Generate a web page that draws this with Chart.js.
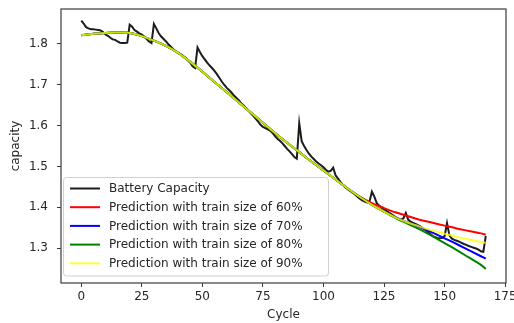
<!DOCTYPE html>
<html>
<head>
<meta charset="utf-8">
<script src="https://cdn.jsdelivr.net/npm/chart.js@4.4.1/dist/chart.umd.min.js"></script>
<style>
  html, body { margin: 0; padding: 0; background: #fff; }
  #wrap { width: 514px; height: 323px; }
</style>
</head>
<body>
<div id="wrap"><canvas id="chart" width="514" height="323"></canvas></div>
<script>
// measured battery capacity, one value per cycle (0..167)
const capacity = [
  1.857, 1.850, 1.841, 1.838, 1.836, 1.836, 1.835, 1.834, 1.833, 1.829,
  1.823, 1.820, 1.815, 1.811, 1.810, 1.806, 1.803, 1.802, 1.802, 1.803,
  1.847, 1.842, 1.834, 1.830, 1.826, 1.823, 1.818, 1.812, 1.806, 1.802,
  1.849, 1.838, 1.826, 1.818, 1.812, 1.806, 1.799, 1.793, 1.787, 1.782,
  1.778, 1.775, 1.771, 1.766, 1.760, 1.754, 1.745, 1.741, 1.791, 1.780,
  1.770, 1.762, 1.754, 1.747, 1.741, 1.734, 1.726, 1.717, 1.708, 1.700,
  1.693, 1.687, 1.681, 1.674, 1.668, 1.662, 1.655, 1.649, 1.643, 1.637,
  1.630, 1.624, 1.617, 1.610, 1.602, 1.597, 1.594, 1.591, 1.588, 1.582,
  1.574, 1.568, 1.563, 1.557, 1.550, 1.543, 1.537, 1.530, 1.523, 1.519,
  1.606, 1.562, 1.550, 1.540, 1.531, 1.524, 1.518, 1.512, 1.507, 1.503,
  1.498, 1.492, 1.487, 1.489, 1.497, 1.478, 1.470, 1.462, 1.455, 1.449,
  1.444, 1.440, 1.436, 1.431, 1.426, 1.421, 1.417, 1.414, 1.412, 1.414,
  1.438, 1.426, 1.410, 1.404, 1.399, 1.395, 1.391, 1.387, 1.383, 1.379,
  1.375, 1.372, 1.369, 1.373, 1.386, 1.369, 1.365, 1.362, 1.359, 1.356,
  1.353, 1.349, 1.345, 1.340, 1.335, 1.330, 1.327, 1.325, 1.324, 1.325,
  1.329, 1.361, 1.331, 1.323, 1.320, 1.318, 1.316, 1.313, 1.310, 1.308,
  1.305, 1.303, 1.301, 1.299, 1.296, 1.292, 1.291, 1.330
];
const cycles = capacity.map((_, i) => i);

// prediction curves, sampled at these cycles
const predCycles = [0, 5, 10, 15, 20, 25, 30, 35, 40, 45, 50, 55, 60, 65, 70, 75, 80, 85,
  90, 95, 100, 105, 110, 115, 120, 125, 130, 135, 140, 145, 150, 155, 160, 165, 167];

const pred60 = [1.821, 1.825, 1.827, 1.828, 1.827, 1.819, 1.808, 1.795, 1.778, 1.756, 1.732, 1.707,
  1.682, 1.657, 1.632, 1.607, 1.582, 1.558, 1.535, 1.512, 1.490, 1.468, 1.446, 1.426,
  1.410, 1.398, 1.387, 1.378, 1.369, 1.362, 1.355, 1.348, 1.342, 1.336, 1.333];
const pred70 = [1.821, 1.825, 1.827, 1.828, 1.827, 1.819, 1.808, 1.795, 1.778, 1.756, 1.732, 1.707,
  1.682, 1.657, 1.632, 1.607, 1.582, 1.558, 1.535, 1.512, 1.490, 1.468, 1.446, 1.425,
  1.406, 1.389, 1.374, 1.362, 1.351, 1.338, 1.324, 1.310, 1.295, 1.280, 1.274];
const pred80 = [1.821, 1.825, 1.827, 1.828, 1.827, 1.819, 1.808, 1.795, 1.778, 1.756, 1.732, 1.707,
  1.682, 1.657, 1.632, 1.607, 1.582, 1.558, 1.535, 1.512, 1.490, 1.468, 1.446, 1.425,
  1.406, 1.389, 1.373, 1.359, 1.345, 1.329, 1.312, 1.295, 1.277, 1.259, 1.249];
const pred90 = [1.821, 1.825, 1.827, 1.828, 1.827, 1.819, 1.808, 1.795, 1.778, 1.756, 1.732, 1.707,
  1.682, 1.657, 1.632, 1.607, 1.582, 1.558, 1.535, 1.512, 1.490, 1.468, 1.446, 1.425,
  1.406, 1.389, 1.374, 1.362, 1.352, 1.343, 1.335, 1.328, 1.321, 1.315, 1.313];

const xTicks = [0, 25, 50, 75, 100, 125, 150, 175];
const yTicks = [1.3, 1.4, 1.5, 1.6, 1.7, 1.8];

const FONT = "'DejaVu Sans', sans-serif";
const TEXT = "#262626";

const toPoints = (xs, ys) => xs.map((x, i) => ({ x, y: ys[i] }));

function predSet(label, values, color, order) {
    return {
        label,
        data: toPoints(predCycles, values),
        borderColor: color,
        borderWidth: 2,
        pointRadius: 0,
        cubicInterpolationMode: "monotone",
        order,
    };
}

const datasets = [
    {
        label: "Battery Capacity",
        data: toPoints(cycles, capacity),
        borderColor: "#1c1c1c",
        borderWidth: 2,
        pointRadius: 0,
        tension: 0,
        order: 5,
    },
    predSet("Prediction with train size of 60%", pred60, "#ff0000", 4),
    predSet("Prediction with train size of 70%", pred70, "#0000ff", 3),
    predSet("Prediction with train size of 80%", pred80, "#008000", 2),
    predSet("Prediction with train size of 90%", pred90, "rgba(255,255,0,0.78)", 1),
];

// axes frame drawn on all four sides, like matplotlib
const framePlugin = {
    id: "frame",
    afterDatasetsDraw(chart) {
        const { ctx, chartArea: a } = chart;
        ctx.save();
        ctx.strokeStyle = "#3a3a3a";
        ctx.lineWidth = 1.2;
        ctx.strokeRect(a.left, a.top, a.right - a.left, a.bottom - a.top);
        ctx.restore();
    }
};

// legend box in the lower-left corner of the axes
const legendPlugin = {
    id: "innerLegend",
    afterDraw(chart) {
        const { ctx } = chart;
        const x = 63.5, y = 177.5, w = 265, h = 98.5, r = 3;
        ctx.save();
        ctx.beginPath();
        ctx.roundRect(x, y, w, h, r);
        ctx.fillStyle = "rgba(255,255,255,0.8)";
        ctx.fill();
        ctx.strokeStyle = "#d0d0d0";
        ctx.lineWidth = 1;
        ctx.stroke();
        ctx.font = "12px " + FONT;
        ctx.textBaseline = "middle";
        chart.data.datasets.forEach((ds, i) => {
            const rowY = 188.5 + i * 18.7;
            ctx.beginPath();
            ctx.moveTo(70, rowY);
            ctx.lineTo(100, rowY);
            ctx.strokeStyle = ds.borderColor;
            ctx.lineWidth = 2;
            ctx.stroke();
            ctx.fillStyle = TEXT;
            ctx.fillText(ds.label, 109, rowY + 0.5);
        });
        ctx.restore();
    }
};

new Chart(document.getElementById("chart"), {
    type: "line",
    data: { datasets },
    options: {
        responsive: false,
        animation: false,
        events: [],
        layout: { padding: { left: 0, right: 8, top: 9, bottom: 0 } },
        plugins: { legend: { display: false }, tooltip: { enabled: false } },
        scales: {
            x: {
                type: "linear",
                min: -8.35,
                max: 175.35,
                afterBuildTicks: (s) => { s.ticks = xTicks.map(v => ({ value: v })); },
                afterFit: (s) => { s.height = 40; s.paddingLeft = 0; s.paddingRight = 0; },
                grid: { drawOnChartArea: false, drawTicks: true, tickLength: 4, color: "#3a3a3a", lineWidth: 1 },
                border: { display: false },
                ticks: {
                    color: TEXT, padding: 3, maxRotation: 0, autoSkip: false,
                    font: { family: FONT, size: 12 },
                    callback: (v) => String(v),
                },
                title: {
                    display: true, text: "Cycle", color: TEXT,
                    font: { family: FONT, size: 12 },
                    padding: { top: 0, bottom: 1 },
                },
            },
            y: {
                type: "linear",
                min: 1.2145,
                max: 1.8855,
                afterBuildTicks: (s) => { s.ticks = yTicks.map(v => ({ value: v })); },
                afterFit: (s) => { s.width = 61; s.paddingTop = 0; s.paddingBottom = 0; },
                grid: { drawOnChartArea: false, drawTicks: true, tickLength: 4, color: "#3a3a3a", lineWidth: 1 },
                border: { display: false },
                ticks: {
                    color: TEXT, padding: 9, autoSkip: false,
                    font: { family: FONT, size: 12 },
                    callback: (v) => v.toFixed(1),
                },
                title: {
                    display: true, text: "capacity", color: TEXT,
                    font: { family: FONT, size: 12 },
                    padding: { top: 9, bottom: 9 },
                },
            },
        },
    },
    plugins: [framePlugin, legendPlugin],
});
</script>
</body>
</html>
